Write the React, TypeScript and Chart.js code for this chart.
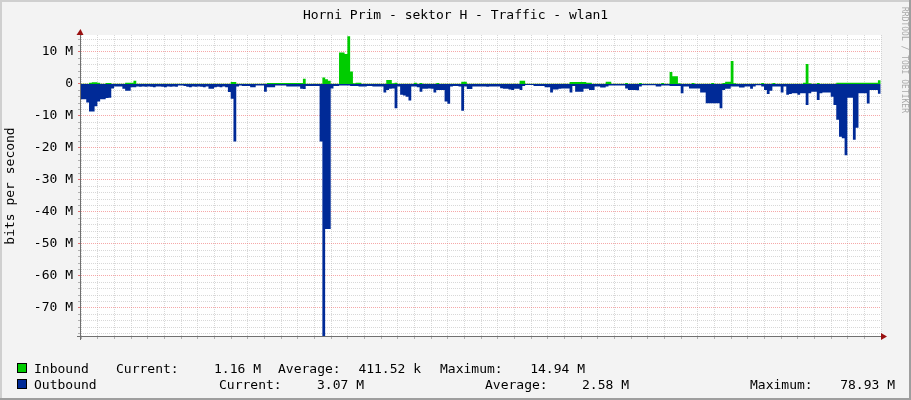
import React, { useEffect, useRef } from "react";
import { Chart, registerables } from "chart.js";

Chart.register(...registerables);

const chartTitle = "Horni Prim - sektor H - Traffic - wlan1";
const yAxisTitle = "bits per second";
const sideText = "RRDTOOL / TOBI OETIKER";

// samples every 5 minutes, first one at 23:15 of the previous day (hours relative to 00:00)
const firstSampleHour = -0.75;
const sampleStepHours = 5 / 60;
const xMinHour = -0.741;
const xMaxHour = 23.259;
const yMinM = -78.75;
const yMaxM = 15.3;

// Inbound traffic, Mbit/s (one row = one hour of 5-minute samples)
const inboundM = [
  0.1, 0.1, 0.1, 0.4, 0.5, 0.5, 0.4, 0.1, 0.1, 0.3, 0.3, 0.1,
  0.1, 0.1, 0.1, 0.1, 0.4, 0.4, 0.4, 1.0, 0.1, 0.1, 0.1, 0.1,
  0.1, 0.1, 0.1, 0.1, 0.1, 0.1, 0.1, 0.1, 0.1, 0.1, 0.1, 0.1,
  0.1, 0.1, 0.1, 0.1, 0.1, 0.1, 0.1, 0.1, 0.1, 0.1, 0.1, 0.1,
  0.1, 0.1, 0.1, 0.1, 0.1, 0.1, 0.6, 0.6, 0.1, 0.1, 0.1, 0.1,
  0.1, 0.1, 0.1, 0.1, 0.1, 0.1, 0.1, 0.3, 0.3, 0.3, 0.3, 0.3,
  0.3, 0.3, 0.3, 0.3, 0.3, 0.3, 0.3, 0.3, 1.6, 0.1, 0.1, 0.1,
  0.1, 0.1, 0.1, 2.0, 1.5, 1.0, 0.1, 0.1, 0.1, 9.8, 9.8, 9.4,
  14.94, 3.9, 0.2, 0.4, 0.4, 0.1, 0.1, 0.1, 0.1, 0.1, 0.1, 0.1,
  0.1, 0.1, 1.25, 1.25, 0.2, 0.4, 0.1, 0.1, 0.1, 0.1, 0.1, 0.1,
  0.4, 0.1, 0.3, 0.1, 0.1, 0.1, 0.1, 0.1, 0.3, 0.1, 0.1, 0.1,
  0.1, 0.1, 0.1, 0.1, 0.1, 0.7, 0.7, 0.1, 0.1, 0.1, 0.1, 0.1,
  0.1, 0.1, 0.1, 0.1, 0.1, 0.1, 0.1, 0.1, 0.1, 0.1, 0.1, 0.1,
  0.1, 0.1, 1.0, 1.0, 0.1, 0.1, 0.1, 0.1, 0.1, 0.1, 0.1, 0.1,
  0.1, 0.1, 0.1, 0.1, 0.1, 0.1, 0.1, 0.1, 0.6, 0.6, 0.6, 0.6,
  0.6, 0.6, 0.4, 0.4, 0.1, 0.1, 0.1, 0.1, 0.1, 0.7, 0.7, 0.1,
  0.1, 0.1, 0.1, 0.1, 0.3, 0.1, 0.1, 0.1, 0.1, 0.3, 0.1, 0.1,
  0.1, 0.1, 0.1, 0.1, 0.1, 0.3, 0.1, 0.1, 3.7, 2.4, 2.4, 0.2,
  0.1, 0.1, 0.1, 0.1, 0.3, 0.1, 0.1, 0.1, 0.1, 0.1, 0.1, 0.3,
  0.1, 0.1, 0.1, 0.3, 0.7, 0.7, 7.2, 0.2, 0.1, 0.1, 0.1, 0.1,
  0.1, 0.1, 0.1, 0.1, 0.1, 0.3, 0.1, 0.1, 0.1, 0.3, 0.1, 0.1,
  0.1, 0.1, 0.1, 0.1, 0.1, 0.1, 0.1, 0.1, 0.4, 6.25, 0.2, 0.1,
  0.1, 0.3, 0.1, 0.1, 0.1, 0.1, 0.1, 0.1, 0.4, 0.4, 0.4, 0.4,
  0.4, 0.4, 0.4, 0.4, 0.4, 0.4, 0.4, 0.4, 0.4, 0.4, 0.4, 1.16,
  1.16,
];

// Outbound traffic, Mbit/s (plotted below zero)
const outboundM = [
  4.8, 4.8, 5.8, 8.6, 8.6, 7.0, 5.5, 4.8, 4.8, 4.4, 4.3, 1.4,
  0.8, 0.8, 0.8, 1.5, 2.1, 2.1, 1.0, 1.0, 0.8, 0.9, 0.8, 0.9,
  0.8, 0.9, 1.0, 0.8, 0.8, 0.9, 1.0, 0.8, 0.9, 0.8, 0.9, 0.5,
  0.5, 0.6, 0.9, 1.0, 0.8, 0.9, 0.8, 0.9, 1.0, 0.8, 1.5, 1.5,
  1.0, 0.9, 1.0, 0.8, 1.0, 2.5, 4.6, 18.0, 0.8, 0.5, 0.6, 0.6,
  0.6, 1.0, 1.0, 0.5, 0.5, 0.5, 2.4, 1.0, 1.0, 1.0, 0.5, 0.5,
  0.5, 0.5, 0.8, 0.8, 0.8, 0.8, 0.8, 1.5, 1.6, 0.6, 0.6, 0.6,
  0.6, 0.6, 18.0, 78.93, 45.3, 45.3, 1.4, 0.6, 0.6, 0.5, 0.5, 0.5,
  0.5, 0.6, 0.6, 0.6, 0.8, 0.8, 0.8, 0.6, 0.6, 0.8, 0.8, 0.8,
  0.8, 2.7, 1.9, 1.5, 1.4, 7.6, 0.8, 3.4, 3.6, 4.0, 5.2, 0.8,
  0.8, 1.0, 2.4, 1.5, 1.5, 1.4, 1.5, 2.7, 1.9, 1.9, 1.9, 5.5,
  6.2, 0.8, 0.6, 0.6, 0.8, 8.4, 0.8, 1.6, 1.6, 0.8, 0.8, 0.8,
  0.8, 0.8, 0.9, 0.8, 0.8, 0.8, 0.8, 1.3, 1.5, 1.5, 1.7, 1.9,
  1.5, 1.5, 1.9, 0.6, 0.3, 0.3, 0.3, 0.6, 0.6, 0.6, 0.6, 1.0,
  1.0, 2.7, 1.7, 1.7, 1.5, 1.4, 1.4, 1.4, 2.7, 0.6, 2.4, 2.4,
  2.4, 1.5, 1.5, 1.9, 1.9, 0.8, 0.8, 1.1, 1.1, 0.8, 0.5, 0.5,
  0.5, 0.5, 0.5, 0.5, 1.4, 1.9, 1.9, 1.9, 2.0, 0.8, 0.4, 0.4,
  0.4, 0.4, 0.4, 0.8, 0.8, 0.5, 0.5, 0.5, 0.6, 0.6, 0.6, 0.6,
  2.9, 0.8, 0.8, 1.4, 1.4, 1.4, 1.4, 2.7, 2.7, 6.0, 6.0, 6.0,
  6.0, 6.0, 7.6, 1.9, 1.5, 1.5, 0.8, 0.8, 0.8, 1.1, 1.1, 0.8,
  0.8, 1.5, 0.8, 0.4, 0.4, 0.8, 1.9, 3.1, 2.1, 0.8, 0.8, 0.8,
  2.7, 0.8, 3.4, 3.1, 2.9, 2.9, 3.4, 2.9, 2.9, 6.6, 2.9, 2.4,
  2.4, 5.0, 2.9, 2.7, 2.7, 2.7, 4.0, 6.6, 11.2, 16.5, 17.0, 22.3,
  4.3, 4.3, 17.4, 13.7, 2.9, 2.9, 2.9, 6.1, 1.9, 1.9, 1.9, 3.07,
  3.07,
];

const seriesNames = ["Inbound", "Outbound"];
const seriesColors = ["#00CC00", "#002A97"];
const statNames = ["Current:", "Average:", "Maximum:"];
const inboundStats = ["1.16 M", "411.52 k", "14.94 M"];
const outboundStats = ["3.07 M", "2.58 M", "78.93 M"];

const FONT = "'DejaVu Sans Mono', monospace";
const MAJOR_GRID = "rgba(240, 110, 110, 0.6)";
const MINOR_GRID = "rgba(190, 190, 190, 0.6)";

const rrdPlugin = {
  id: "rrdDecor",
  beforeDraw(chart: any) {
    const { ctx, width, height, chartArea: a } = chart;
    ctx.save();
    ctx.fillStyle = "#F3F3F3";
    ctx.fillRect(0, 0, width, height);
    ctx.fillStyle = "#CFCFCF";
    ctx.fillRect(0, 0, width, 2);
    ctx.fillRect(0, 0, 2, height);
    ctx.fillStyle = "#9E9E9E";
    ctx.fillRect(0, height - 2, width, 2);
    ctx.fillRect(width - 2, 0, 2, height);
    ctx.fillStyle = "#FFFFFF";
    ctx.fillRect(a.left, a.top, a.right - a.left, a.bottom - a.top);
    ctx.restore();
  },
  afterDatasetsDraw(chart: any) {
    const { ctx, chartArea: a } = chart;
    ctx.save();
    ctx.fillStyle = "#707070";
    ctx.fillRect(a.left - 1, a.top - 3, 1, a.bottom - a.top + 7);
    ctx.fillRect(a.left - 4, a.bottom, a.right - a.left + 6, 1);
    ctx.fillStyle = "#9A1010";
    ctx.beginPath();
    ctx.moveTo(a.left - 4.5, a.top);
    ctx.lineTo(a.left + 2.5, a.top);
    ctx.lineTo(a.left - 0.5, a.top - 6);
    ctx.closePath();
    ctx.fill();
    ctx.beginPath();
    ctx.moveTo(a.right, a.bottom - 3);
    ctx.lineTo(a.right, a.bottom + 4);
    ctx.lineTo(a.right + 6, a.bottom + 0.5);
    ctx.closePath();
    ctx.fill();
    ctx.restore();
  },
  afterDraw(chart: any) {
    const { ctx } = chart;
    ctx.save();
    ctx.fillStyle = "#000000";
    ctx.font = `13px ${FONT}`;
    ctx.textBaseline = "alphabetic";
    ctx.textAlign = "center";
    ctx.fillText(chartTitle, 455.5, 19);

    ctx.save();
    ctx.translate(14, 186);
    ctx.rotate(-Math.PI / 2);
    ctx.textAlign = "center";
    ctx.fillText(yAxisTitle, 0, 0);
    ctx.restore();

    ctx.save();
    ctx.font = `8px ${FONT}`;
    ctx.fillStyle = "#A8A8A8";
    ctx.translate(901.5, 7);
    ctx.rotate(Math.PI / 2);
    ctx.textAlign = "left";
    ctx.fillText(sideText, 0, 0);
    ctx.restore();

    // legend
    const rows = [
      { name: seriesNames[0], color: seriesColors[0], stats: inboundStats, y: 373,
        labelX: [116, 278, 440], valueEnd: [261, 421, 585] },
      { name: seriesNames[1], color: seriesColors[1], stats: outboundStats, y: 389,
        labelX: [219, 485, 750], valueEnd: [364, 629, 895] },
    ];
    rows.forEach((r) => {
      ctx.fillStyle = r.color;
      ctx.fillRect(17, r.y - 10, 10, 10);
      ctx.strokeStyle = "#000000";
      ctx.lineWidth = 1;
      ctx.strokeRect(17.5, r.y - 9.5, 9, 9);
      ctx.fillStyle = "#000000";
      ctx.textAlign = "left";
      ctx.fillText(r.name, 34, r.y);
      statNames.forEach((s, k) => {
        ctx.textAlign = "left";
        ctx.fillText(s, r.labelX[k], r.y);
        ctx.textAlign = "right";
        ctx.fillText(r.stats[k], r.valueEnd[k], r.y);
      });
    });
    ctx.restore();
  },
};

export default function App() {
  const ref = useRef<HTMLCanvasElement>(null);
  useEffect(() => {
    const canvas = ref.current;
    if (!canvas) return;
    const times = inboundM.map((_, i) => firstSampleHour + i * sampleStepHours);
    const isMajorX = (v: number) => Math.abs(v - Math.round(v / 2) * 2) < 1e-6;
    const isMajorY = (v: number) => Math.abs(v - Math.round(v / 10) * 10) < 1e-6;
    const chart = new Chart(canvas, {
      type: "line",
      data: {
        datasets: [
          {
            label: seriesNames[1],
            data: times.map((t, i) => ({ x: t, y: -outboundM[i] })),
            backgroundColor: seriesColors[1],
            borderColor: "transparent",
            borderWidth: 0,
            fill: "origin",
            stepped: "before",
            pointRadius: 0,
            order: 0,
          },
          {
            label: seriesNames[0],
            data: times.map((t, i) => ({ x: t, y: inboundM[i] })),
            backgroundColor: seriesColors[0],
            borderColor: "transparent",
            borderWidth: 0,
            fill: "origin",
            stepped: "before",
            pointRadius: 0,
            order: 1,
          },
        ],
      },
      options: {
        animation: false,
        responsive: false,
        devicePixelRatio: 1,
        events: [],
        layout: { padding: { left: 0, top: 35, right: 30, bottom: 0 } },
        plugins: {
          legend: { display: false },
          tooltip: { enabled: false },
          title: { display: false },
        },
        scales: {
          x: {
            type: "linear",
            min: xMinHour,
            max: xMaxHour,
            afterFit: (s: any) => { s.height = 64; },
            grid: {
              drawTicks: true,
              tickLength: 3,
              color: (c: any) => (c.tick && isMajorX(c.tick.value) ? MAJOR_GRID : MINOR_GRID),
              tickColor: (c: any) => (c.tick && isMajorX(c.tick.value) ? "#E07070" : "#B0B0B0"),
            },
            border: { display: false, dash: [1, 1] },
            ticks: {
              stepSize: 0.5,
              includeBounds: false,
              autoSkip: false,
              maxRotation: 0,
              padding: 0,
              color: "#000000",
              font: { family: FONT, size: 13 },
              callback: (v: any) => {
                const n = Number(v);
                if (!isMajorX(n)) return "";
                return `${String(Math.round(n)).padStart(2, "0")}:00`;
              },
            },
          },
          y: {
            type: "linear",
            min: yMinM,
            max: yMaxM,
            afterFit: (s: any) => { s.width = 81; },
            grid: {
              drawTicks: true,
              tickLength: 3,
              color: (c: any) => (c.tick && isMajorY(c.tick.value) ? MAJOR_GRID : MINOR_GRID),
              tickColor: (c: any) => (c.tick && isMajorY(c.tick.value) ? "#E07070" : "#B0B0B0"),
            },
            border: { display: false, dash: [1, 1] },
            ticks: {
              stepSize: 2,
              includeBounds: false,
              autoSkip: false,
              padding: 5,
              color: "#000000",
              font: { family: FONT, size: 13 },
              callback: (v: any) => {
                const n = Math.round(Number(v));
                if (!isMajorY(n)) return "";
                return n === 0 ? "0" : `${n} M`;
              },
            },
          },
        },
      },
      plugins: [rrdPlugin],
    } as any);
    return () => chart.destroy();
  }, []);
  return (
    <div style={{ position: "absolute", left: 0, top: 0, width: 911, height: 400 }}>
      <canvas ref={ref} width={911} height={400} style={{ display: "block", width: 911, height: 400 }} />
    </div>
  );
}
